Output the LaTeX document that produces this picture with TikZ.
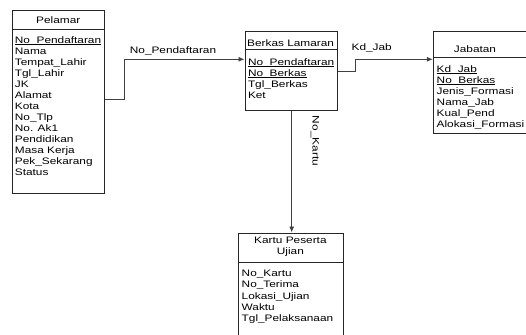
\documentclass[tikz,border=0pt]{standalone}
\usepackage{fontspec}
\setmainfont{Liberation Sans}[FakeStretch=1.26]
\usetikzlibrary{arrows.meta}
% key attribute: a thin rule just under the baseline
\newcommand{\keyattr}[1]{\setbox0\hbox{#1}\rlap{\rule[-1.5pt]{\wd0}{0.6pt}}\box0}
\begin{document}
\begin{tikzpicture}[x=1pt,y=-1pt,
  entity/.style={draw=black!85,line width=0.8pt,rectangle,inner sep=0pt,anchor=north west},
  sep/.style={draw=black!85,line width=0.8pt},
  title/.style={inner sep=0pt,font=\fontsize{9.4}{11}\selectfont,align=center},
  attr/.style={inner sep=0pt,anchor=base west,font=\fontsize{9.4}{11}\selectfont},
  conn/.style={draw=black!75,line width=0.8pt},
  arrowed/.style={conn,-{Latex[length=6pt,width=5pt]}},
  lbl/.style={inner sep=0pt,font=\fontsize{9.4}{11}\selectfont}]
\useasboundingbox (0,0) rectangle (526,334);

% Pelamar
\node[entity,minimum width=92pt,minimum height=182.7pt] (pel) at (12.3,10) {};
\draw[sep] (12.3,29.3) -- (104.3,29.3);
\node[title] (pelT) at (58.3,20) {Pelamar};
\foreach \t [count=\i] in {\keyattr{No\_Pendaftaran},Nama,Tempat\_Lahir,Tgl\_Lahir,JK,Alamat,Kota,No\_Tlp,No. Ak1,Pendidikan,Masa Kerja,Pek\_Sekarang,Status}
  \node[attr] (pel-\i) at (14.7,43.4+10.97*\i-10.97) {\t};

% Berkas Lamaran
\node[entity,minimum width=92.2pt,minimum height=78.5pt] (berkas) at (244.5,31.5) {};
\draw[sep] (244.5,49) -- (336.7,49);
\node[title] (berkasT) at (290.6,43.5) {Berkas Lamaran};
\foreach \t [count=\i] in {\keyattr{No\_Pendaftaran},\keyattr{No\_Berkas},Tgl\_Berkas,Ket}
  \node[attr] (berkas-\i) at (247.8,65.4+11*\i-11) {\t};

% Jabatan
\node[entity,minimum width=107pt,minimum height=101.5pt] (jab) at (432.8,31.5) {};
\draw[sep] (432.8,57.5) -- (539.8,57.5);
\node[title] (jabT) at (475,49) {Jabatan};
\foreach \t [count=\i] in {\keyattr{Kd\_Jab},\keyattr{No\_Berkas},Jenis\_Formasi,Nama\_Jab,Kual\_Pend,Alokasi\_Formasi}
  \node[attr] (jab-\i) at (436.5,72.4+11*\i-11) {\t};

% Kartu Peserta Ujian
\node[entity,minimum width=104.7pt,minimum height=112pt] (kartu) at (238,232.5) {};
\draw[sep] (238,262.5) -- (342.7,262.5);
\node[title] (kartuT) at (290.4,247) {Kartu Peserta\\Ujian};
\foreach \t [count=\i] in {No\_Kartu,No\_Terima,Lokasi\_Ujian,Waktu,Tgl\_Pelaksanaan}
  \node[attr] (kartu-\i) at (241.5,276.6+11.2*\i-11.2) {\t};

% Relationships
\coordinate (k1) at (124.3,59.3);
\draw[arrowed] ([yshift=2pt]pel.east) -| (k1) -- (k1 -| berkas.west);
\node[lbl] (l1) at (173,51) {No\_Pendaftaran};

\coordinate (k2) at (355.7,59.3);
\draw[arrowed] (berkas.east) -| (k2) -- (k2 -| jab.west);
\node[lbl] (l2) at (371.7,48.3) {Kd\_Jab};

\coordinate (k3) at (291.7,0);
\draw[arrowed] (k3 |- berkas.south) -- (k3 |- kartu.north);
\node[lbl,rotate=-90] (l3) at (315,141) {No\_Kartu};
\end{tikzpicture}
\end{document}
